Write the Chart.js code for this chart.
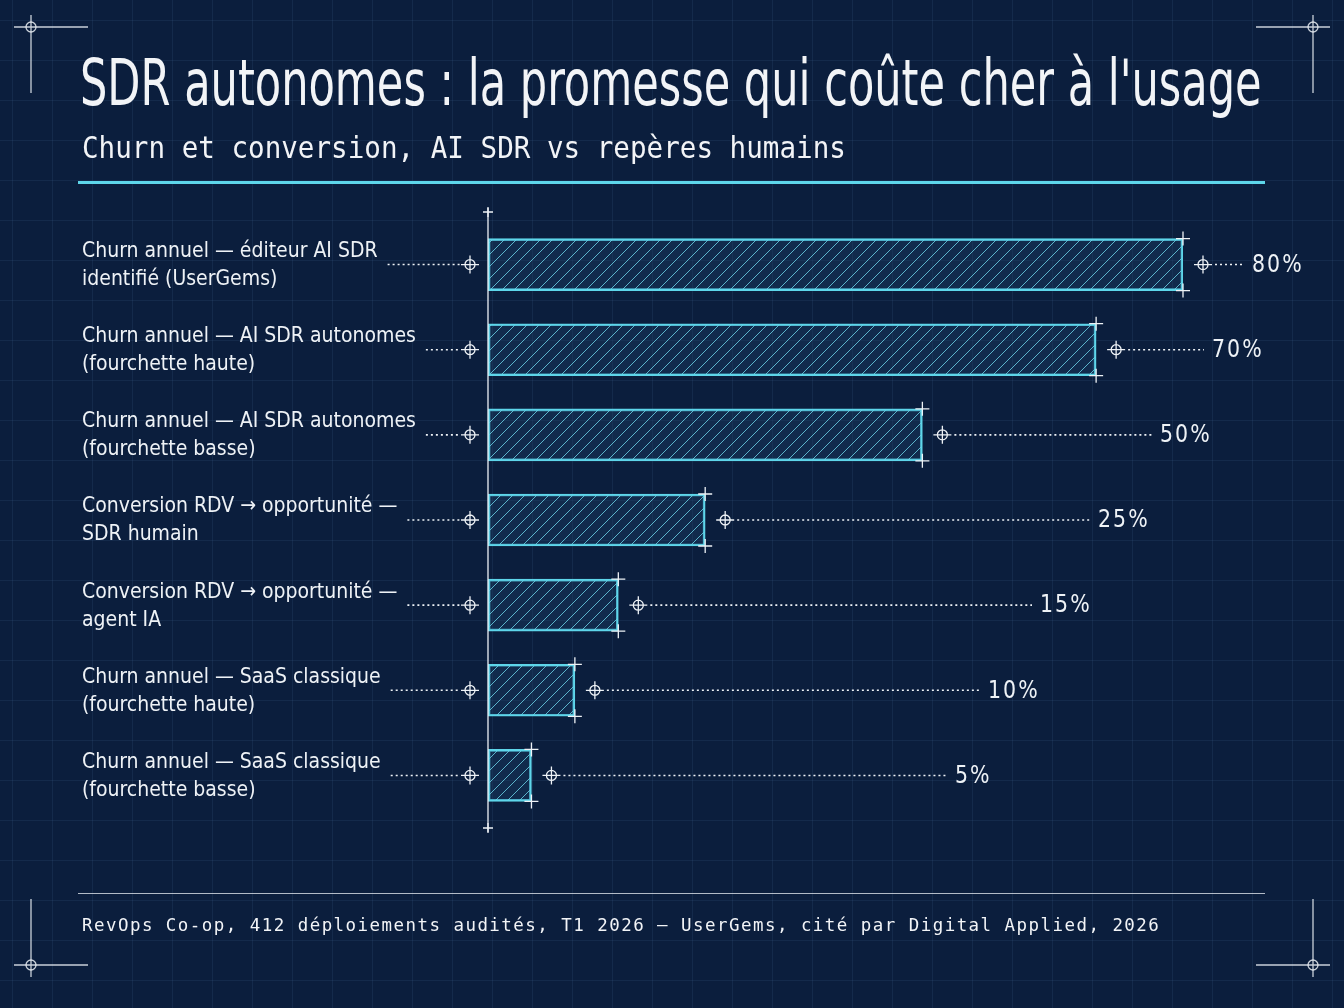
<!DOCTYPE html>
<html><head><meta charset="utf-8">
<script src="https://cdn.jsdelivr.net/npm/chart.js@4/dist/chart.umd.min.js"></script>
<style>
html,body{margin:0;padding:0;background:#0b1e3d;}
#wrap{position:relative;width:1344px;height:1008px;overflow:hidden;}
canvas{position:absolute;left:0;top:0;}
.t{position:absolute;color:#f2f4f7;white-space:nowrap;transform-origin:0 0;}
</style></head>
<body><div id="wrap">
<canvas id="c" width="1344" height="1008"></canvas>
<div class="t" id="title" style="left:80px;top:46px;font:300 64px 'DejaVu Sans Condensed','DejaVu Sans';">SDR autonomes : la promesse qui coûte cher à l'usage</div>
<div class="t" id="sub" style="left:82px;top:130px;font:400 30px 'DejaVu Sans Mono';">Churn et conversion, AI SDR vs repères humains</div>
<div class="t" id="foot" style="left:82px;top:914px;font:400 18px 'DejaVu Sans Mono';letter-spacing:1.5px;">RevOps Co-op, 412 déploiements audités, T1 2026 — UserGems, cité par Digital Applied, 2026</div>
</div>
<script>
const categories = [
  ['Churn annuel — éditeur AI SDR', 'identifié (UserGems)'],
  ['Churn annuel — AI SDR autonomes', '(fourchette haute)'],
  ['Churn annuel — AI SDR autonomes', '(fourchette basse)'],
  ['Conversion RDV → opportunité —', 'SDR humain'],
  ['Conversion RDV → opportunité —', 'agent IA'],
  ['Churn annuel — SaaS classique', '(fourchette haute)'],
  ['Churn annuel — SaaS classique', '(fourchette basse)']
];
const values = [80, 70, 50, 25, 15, 10, 5];
const valueLabels = ['80%', '70%', '50%', '25%', '15%', '10%', '5%'];

const CYAN = '#5ed6ea';
const WHITE = '#eef2f6';
const labelX = [1252, 1212, 1160, 1098, 1040, 988, 955];

// squeeze texts to their widths in the reference
function fitW(id, w) {
  const el = document.getElementById(id);
  el.style.transform = 'scaleX(' + (w / el.offsetWidth) + ')';
}
fitW('title', 1182);
fitW('sub', 764);
fitW('foot', 1078);

function hatch() {
  const p = document.createElement('canvas');
  p.width = 12; p.height = 12;
  const g = p.getContext('2d');
  g.fillStyle = 'rgba(30,70,110,0.35)';
  g.fillRect(0, 0, 12, 12);
  g.strokeStyle = 'rgba(110,215,235,0.8)';
  g.lineWidth = 1;
  g.beginPath();
  g.moveTo(-3, 15); g.lineTo(15, -3);
  g.moveTo(-3, 3); g.lineTo(3, -3);
  g.moveTo(9, 15); g.lineTo(15, 9);
  g.stroke();
  return g.createPattern(p, 'repeat');
}

function crossCircle(ctx, x, y) {
  ctx.beginPath();
  ctx.arc(x, y, 5, 0, Math.PI * 2);
  ctx.moveTo(x - 9, y); ctx.lineTo(x + 9, y);
  ctx.moveTo(x, y - 9); ctx.lineTo(x, y + 9);
  ctx.stroke();
}
function plus(ctx, x, y, s) {
  ctx.beginPath();
  ctx.moveTo(x - s, y); ctx.lineTo(x + s, y);
  ctx.moveTo(x, y - s); ctx.lineTo(x, y + s);
  ctx.stroke();
}
function dotted(ctx, x1, x2, y) {
  ctx.save();
  ctx.setLineDash([2, 3]);
  ctx.lineWidth = 1.6;
  ctx.beginPath(); ctx.moveTo(x1, y); ctx.lineTo(x2, y); ctx.stroke();
  ctx.restore();
}

const decor = {
  id: 'decor',
  beforeDraw(chart) {
    const ctx = chart.ctx;
    ctx.save();
    ctx.fillStyle = '#0b1e3d';
    ctx.fillRect(0, 0, 1344, 1008);
    ctx.strokeStyle = 'rgba(90,130,180,0.12)';
    ctx.lineWidth = 1;
    ctx.beginPath();
    for (let x = 12; x < 1344; x += 40) { ctx.moveTo(x + .5, 0); ctx.lineTo(x + .5, 1008); }
    for (let y = 20; y < 1008; y += 40) { ctx.moveTo(0, y + .5); ctx.lineTo(1344, y + .5); }
    ctx.stroke();
    // corner marks
    ctx.strokeStyle = 'rgba(235,240,245,0.85)';
    ctx.lineWidth = 1.3;
    [[31, 27, 1, 1], [1313, 27, -1, 1], [31, 965, 1, -1], [1313, 965, -1, -1]].forEach(([x, y, dx, dy]) => {
      ctx.beginPath();
      ctx.moveTo(x - 17 * dx, y); ctx.lineTo(x + 57 * dx, y);
      ctx.moveTo(x, y - 12 * dy); ctx.lineTo(x, y + 66 * dy);
      ctx.stroke();
      ctx.beginPath(); ctx.arc(x, y, 5, 0, Math.PI * 2); ctx.stroke();
    });
    // cyan rule and footer rule
    ctx.fillStyle = CYAN;
    ctx.fillRect(78, 181, 1187, 3);
    ctx.fillStyle = 'rgba(235,240,245,0.75)';
    ctx.fillRect(78, 893, 1187, 1);
    ctx.restore();
  },
  afterDatasetsDraw(chart) {
    const ctx = chart.ctx;
    const meta = chart.getDatasetMeta(0);
    const x0 = chart.scales.x.getPixelForValue(0);
    ctx.save();
    ctx.strokeStyle = WHITE;
    ctx.fillStyle = WHITE;
    ctx.lineWidth = 1.3;
    // axis
    ctx.beginPath(); ctx.moveTo(x0, 208); ctx.lineTo(x0, 832); ctx.stroke();
    plus(ctx, x0, 212, 5); plus(ctx, x0, 828, 5);
    meta.data.forEach((bar, i) => {
      const y = bar.y, h = bar.height / 2, xe = bar.x;
      plus(ctx, xe, y - h, 7); plus(ctx, xe, y + h, 7);
      crossCircle(ctx, xe + 20, y);
      dotted(ctx, xe + 32, labelX[i] - 8, y);
      crossCircle(ctx, 470, y);
      ctx.font = "24px 'DejaVu Sans Condensed','DejaVu Sans'";
      ctx.textBaseline = 'middle';
      ctx.textAlign = 'left';
      ctx.save();
      ctx.translate(labelX[i], 0);
      ctx.scale(0.95, 1);
      ctx.fillText(valueLabels[i].split('').join(String.fromCharCode(8202)), 0, y + 1);
      ctx.restore();
      // category label
      ctx.font = "21px 'DejaVu Sans Condensed','DejaVu Sans'";
      ctx.fillText(categories[i][0], 82, y - 13);
      ctx.fillText(categories[i][1], 82, y + 15);
      const w = ctx.measureText(categories[i][0]).width;
      dotted(ctx, 82 + w + 10, 460, y);
    });
    ctx.restore();
  }
};

new Chart(document.getElementById('c'), {
  type: 'bar',
  data: {
    labels: categories,
    datasets: [{
      data: values,
      backgroundColor: hatch(),
      borderColor: CYAN,
      borderWidth: 2,
      borderSkipped: false,
      barThickness: 52
    }]
  },
  options: {
    indexAxis: 'y',
    responsive: false,
    animation: false,
    layout: { padding: { left: 488, right: 161, top: 222, bottom: 190 } },
    scales: {
      x: { display: false, min: 0, max: 80 },
      y: { display: false }
    },
    plugins: { legend: { display: false }, tooltip: { enabled: false } }
  },
  plugins: [decor]
});
</script>
</body></html>
